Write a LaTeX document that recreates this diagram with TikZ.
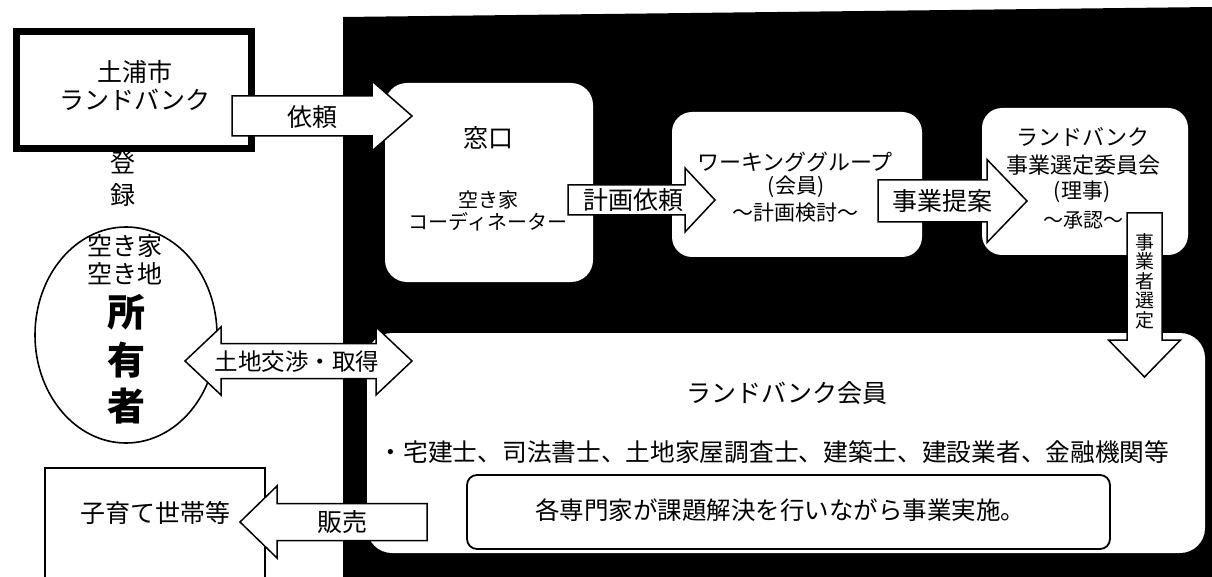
\documentclass[tikz,border=0pt]{standalone}
\usepackage{fontspec}
\setmainfont{Noto Sans CJK JP}
\usetikzlibrary{shapes.geometric,calc}
\newcommand{\fs}[1]{\fontsize{#1}{#1}\selectfont}
\tikzset{
  abody/.store in=\abody, ahead/.store in=\ahead, ahlen/.store in=\ahlen,
  abody=18, ahead=35, ahlen=38,
  blk/.style={draw=black, line width=1.5pt, fill=white, line join=miter},
  rarrow/.style={blk, to path={
    ($(\tikztostart)+(0,\abody)$) -- ($(\tikztotarget)+(-\ahlen,\abody)$) -- ($(\tikztotarget)+(-\ahlen,\ahead)$) -- (\tikztotarget) -- ($(\tikztotarget)+(-\ahlen,-\ahead)$) -- ($(\tikztotarget)+(-\ahlen,-\abody)$) -- ($(\tikztostart)+(0,-\abody)$) -- cycle}},
  larrow/.style={blk, to path={
    ($(\tikztostart)+(0,\abody)$) -- ($(\tikztotarget)+(\ahlen,\abody)$) -- ($(\tikztotarget)+(\ahlen,\ahead)$) -- (\tikztotarget) -- ($(\tikztotarget)+(\ahlen,-\ahead)$) -- ($(\tikztotarget)+(\ahlen,-\abody)$) -- ($(\tikztostart)+(0,-\abody)$) -- cycle}},
  darrow/.style={blk, to path={
    ($(\tikztostart)+(\abody,0)$) -- ($(\tikztotarget)+(\abody,-\ahlen)$) -- ($(\tikztotarget)+(\ahead,-\ahlen)$) -- (\tikztotarget) -- ($(\tikztotarget)+(-\ahead,-\ahlen)$) -- ($(\tikztotarget)+(-\abody,-\ahlen)$) -- ($(\tikztostart)+(-\abody,0)$) -- cycle}},
  lrarrow/.style={blk, to path={
    (\tikztostart) -- ($(\tikztostart)+(\ahlen,-\ahead)$) -- ($(\tikztostart)+(\ahlen,-\abody)$) -- ($(\tikztotarget)+(-\ahlen,-\abody)$) -- ($(\tikztotarget)+(-\ahlen,-\ahead)$) -- (\tikztotarget) -- ($(\tikztotarget)+(-\ahlen,\ahead)$) -- ($(\tikztotarget)+(-\ahlen,\abody)$) -- ($(\tikztostart)+(\ahlen,\abody)$) -- ($(\tikztostart)+(\ahlen,\ahead)$) -- cycle}},
  wbox/.style={fill=white, draw=none, inner sep=0},
  lbl/.style={inner sep=0, text=black},
  t25/.style={lbl, font=\fs{25}},
  t24/.style={lbl, font=\fs{24.5}},
  t22/.style={lbl, font=\fs{22}},
  t21/.style={lbl, font=\fs{21}},
  t20/.style={lbl, font=\fs{20}},
  big/.style={lbl, font=\fs{38}\bfseries},
}
\begin{document}
\begin{tikzpicture}[x=1pt,y=-1pt]
\useasboundingbox (0,0) rectangle (1212,577);
\fill[white] (0,0) rectangle (1212,577);
% black background panel
\fill[black] (343,17) -- (1212,7) -- (1212,577) -- (343,577) -- cycle;

% left side boxes
\node[draw=black, line width=7pt, fill=white, minimum width=235pt, minimum height=117pt, inner sep=0] (city) at (134,90) {};
\node[ellipse, draw=black, line width=1.6pt, fill=white, minimum width=182pt, minimum height=216pt, inner sep=0] (owner) at (126,335) {};
\node[draw=black, line width=1.6pt, fill=white, minimum width=220pt, minimum height=140pt, inner sep=0] (family) at (155,538) {};

% white boxes on black
\node[wbox, rounded corners=22pt, minimum width=208pt, minimum height=199pt] (madoguchi) at (489,182.5) {};
\node[wbox, rounded corners=20pt, minimum width=250pt, minimum height=145pt] (wg) at (797,184.5) {};
\node[wbox, rounded corners=20pt, minimum width=206pt, minimum height=147pt] (comm) at (1085,181.5) {};
\node[wbox, rounded corners=25pt, minimum width=838pt, minimum height=220pt] (member) at (786,443) {};
\node[draw=black, line width=1.8pt, fill=white, rounded corners=10pt, minimum width=643pt, minimum height=74pt, inner sep=0] (inner) at (788.5,512) {};

% texts in boxes
\node[t25] (cityA) at (135,72) {土浦市};
\node[t25] (cityB) at (135,100) {ランドバンク};
\node[t25, align=center, font=\fontsize{25}{32}\selectfont] (touroku) at (123,179) {登\\録};
\node[t25] (ownA) at (125,246) {空き家};
\node[t25] (ownB) at (125,274) {空き地};
\node[big] (ownC) at (126,312) {所};
\node[big] (ownD) at (126,360) {有};
\node[big] (ownE) at (126,406) {者};
\node[t25] (famT) at (155,513) {子育て世帯等};

\node[t25] (madoA) at (488,138) {窓口};
\node[t20] (madoB) at (488,200) {空き家};
\node[t20] (madoC) at (488,222) {コーディネーター};

\node[t22] (wgA) at (795,162) {ワーキンググループ};
\node[t21] (wgB) at (796,187) {(会員)};
\node[t21] (wgC) at (795,213) {～計画検討～};

\node[t22] (coA) at (1083,137) {ランドバンク};
\node[t22] (coB) at (1083,165) {事業選定委員会};
\node[t21] (coC) at (1082,192) {(理事)};
\node[t20] (coD) at (1083,220) {～承認～};

\node[t25] (memA) at (787,393) {ランドバンク会員};
\node[t24, font=\fs{24.7}] (memB) at (774,452) {・宅建士、司法書士、土地家屋調査士、建築士、建設業者、金融機関等};
\node[t24] (inT) at (780,510) {各専門家が課題解決を行いながら事業実施。};

% block arrows
\coordinate (iraiS) at (232,116);   \coordinate (iraiT) at (412,116);
\coordinate (keiS) at (568,200);    \coordinate (keiT) at (715,200);
\coordinate (teiS) at (878,201);    \coordinate (teiT) at (1027,201);
\coordinate (senS) at (1144.5,213); \coordinate (senT) at (1144.5,377);
\coordinate (kouL) at (185,361);    \coordinate (kouR) at (412,361);
\coordinate (hanS) at (427,522);    \coordinate (hanT) at (240,522);

\draw[rarrow, abody=20, ahead=35, ahlen=40] (iraiS) to (iraiT);
\draw[rarrow, abody=15, ahead=32, ahlen=30] (keiS) to (keiT);
\draw[rarrow, abody=21, ahead=41.5, ahlen=40] (teiS) to (teiT);
\draw[darrow, abody=17.5, ahead=36, ahlen=37] (senS) to (senT);
\draw[lrarrow, abody=17.5, ahead=34, ahlen=36] (kouL) to (kouR);
\draw[larrow, abody=18.5, ahead=36, ahlen=37] (hanS) to (hanT);

% arrow labels
\node[t25] (iraiL) at (312,117) {依頼};
\node[t25] (keiL) at (633,200) {計画依頼};
\node[t25] (teiL) at (942,201) {事業提案};
\node[lbl, align=center, font=\fontsize{19}{19.5}\selectfont] (senL) at (1144.5,281) {事\\業\\者\\選\\定};
\node[lbl, font=\fs{23.5}] (kouLb) at (297,362) {土地交渉・取得};
\node[t25] (hanL) at (342,522) {販売};
\end{tikzpicture}
\end{document}
